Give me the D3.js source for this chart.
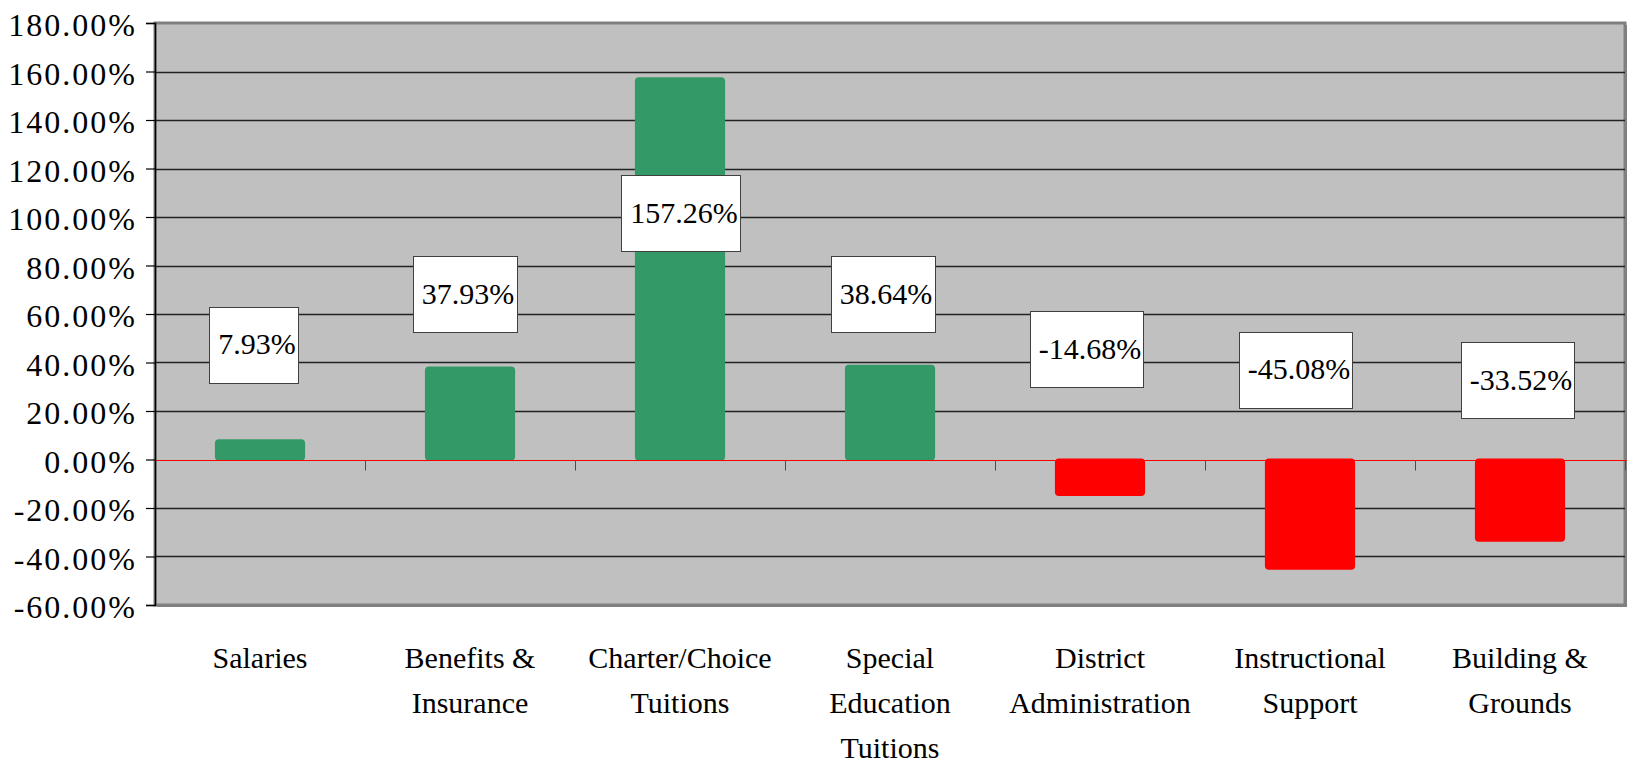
<!DOCTYPE html>
<html>
<head>
<meta charset="utf-8">
<script src="https://cdn.jsdelivr.net/npm/d3@7"></script>
<style>
html,body{margin:0;padding:0;background:#fff;}
svg{display:block;}
text{font-family:"Liberation Serif","Times New Roman",serif;fill:#000;}
</style>
</head>
<body>
<svg id="chart" width="1633" height="763"></svg>
<script>
// ---- data ----
const categories = ["Salaries", "Benefits & Insurance", "Charter/Choice Tuitions", "Special Education Tuitions", "District Administration", "Instructional Support", "Building & Grounds"];
const categoryLines = [["Salaries"], ["Benefits &", "Insurance"], ["Charter/Choice", "Tuitions"], ["Special", "Education", "Tuitions"], ["District", "Administration"], ["Instructional", "Support"], ["Building &", "Grounds"]];
const values = [7.93, 37.93, 157.26, 38.64, -14.68, -45.08, -33.52];
const valueLabels = ["7.93%", "37.93%", "157.26%", "38.64%", "-14.68%", "-45.08%", "-33.52%"];
const yTicks = [-60, -40, -20, 0, 20, 40, 60, 80, 100, 120, 140, 160, 180];
const yTickLabels = ["-60.00%", "-40.00%", "-20.00%", "0.00%", "20.00%", "40.00%", "60.00%", "80.00%", "100.00%", "120.00%", "140.00%", "160.00%", "180.00%"];
// where each data-label box sits (in axis units), as placed in the original
const labelAt = [47.4, 68.2, 101.6, 68.2, 45.6, 37.1, 32.6];

// ---- layout ----
const L = 155, R = 1625, T = 23, B = 605;
const labelDx = [-7, -6, 0, -8, -14, -15, -3];
const svg = d3.select("#chart");

const x = d3.scaleBand().domain(d3.range(categories.length)).range([L, R]).paddingInner(0.58).paddingOuter(0.29);
const y = d3.scaleLinear().domain([-60, 180]).range([B, T]);

// plot area with shadow
svg.append("rect").attr("x", L + 2).attr("y", T + 2).attr("width", R - L).attr("height", B - T).attr("fill", "#808080");
svg.append("rect").attr("x", L).attr("y", T).attr("width", R - L).attr("height", B - T)
  .attr("fill", "#C0C0C0").attr("stroke", "#808080").attr("stroke-width", 3);

// gridlines
svg.append("g").selectAll("line").data(yTicks.filter(d => d !== 0 && d !== 180 && d !== -60)).join("line")
  .attr("x1", L).attr("x2", R).attr("y1", d => Math.round(y(d)) + 0.5).attr("y2", d => Math.round(y(d)) + 0.5)
  .attr("stroke", "#222").attr("stroke-width", 1.3);

// bars
svg.append("g").selectAll("rect").data(values).join("rect")
  .attr("x", (d, i) => x(i))
  .attr("width", x.bandwidth())
  .attr("y", d => y(Math.max(0, d)))
  .attr("height", d => Math.abs(y(d) - y(0)))
  .attr("rx", 3)
  .attr("fill", d => d >= 0 ? "#339966" : "#FF0000")
  .attr("stroke", d => d >= 0 ? "#339966" : "#FF0000")
  .attr("stroke-width", 2);

// zero line and category ticks
const y0 = Math.round(y(0)) + 0.5;
svg.append("line").attr("x1", L).attr("x2", R + 2).attr("y1", y0).attr("y2", y0).attr("stroke", "#FF0000").attr("stroke-width", 1);
svg.append("g").selectAll("line").data(d3.range(categories.length + 1)).join("line")
  .attr("x1", i => Math.round(L + i * x.step()) + 0.5).attr("x2", i => Math.round(L + i * x.step()) + 0.5)
  .attr("y1", y0).attr("y2", y0 + 10).attr("stroke", "#FF0000").attr("stroke-width", 1);

// y axis
const yAxis = d3.axisLeft(y).tickValues(yTicks).tickSize(9).tickPadding(10)
  .tickFormat((d, i) => yTickLabels[i]);
const ga = svg.append("g").attr("transform", `translate(${L},0)`).call(yAxis);
ga.attr("font-family", null);
ga.select(".domain").attr("stroke", "#000").attr("stroke-width", 1.5);
ga.selectAll(".tick line").attr("stroke", "#000").attr("stroke-width", 1.2);
ga.selectAll(".tick text").attr("font-size", 32)
  .style("font-family", "'Liberation Serif', 'Times New Roman', serif")
  .attr("letter-spacing", "2px").attr("dy", "0.4em").attr("x", -18);

// category labels
const cg = svg.append("g").selectAll("text").data(categoryLines).join("text")
  .attr("text-anchor", "middle").attr("font-size", 30)
  .attr("x", (d, i) => x(i) + x.bandwidth() / 2);
cg.selectAll("tspan").data(d => d).join("tspan")
  .attr("x", function () { return this.parentNode.getAttribute("x"); })
  .attr("y", (d, j) => 668 + j * 45)
  .text(d => d);

// data labels
const lg = svg.append("g").selectAll("g").data(values).join("g");
lg.each(function (d, i) {
  const g = d3.select(this);
  const cx = x(i) + x.bandwidth() / 2 + labelDx[i];
  const cy = y(labelAt[i]);
  const box = g.append("rect");
  const t = g.append("text").attr("font-size", 30).attr("text-anchor", "middle")
    .attr("x", cx + 4).attr("y", cy).attr("dy", "0.33em").text(valueLabels[i]);
  const w = t.node().getComputedTextLength();
  box.attr("x", Math.round(cx + 4 - w / 2 - 9) + 0.5).attr("y", Math.round(cy - 38) + 0.5)
    .attr("width", Math.round(w + 11)).attr("height", 76)
    .attr("fill", "#fff").attr("stroke", "#404040").attr("stroke-width", 1);
});
</script>
</body>
</html>
